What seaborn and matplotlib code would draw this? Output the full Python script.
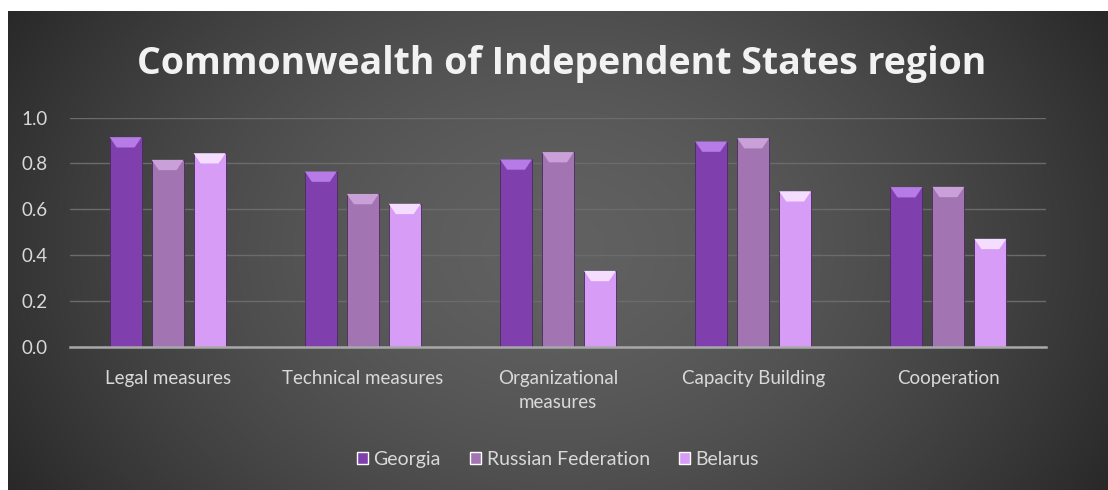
import numpy as np
import pandas as pd
import seaborn as sns
import matplotlib.pyplot as plt
from matplotlib.patches import Polygon

# data
categories = ["Legal measures", "Technical measures", "Organizational\nmeasures",
              "Capacity Building", "Cooperation"]
georgia = [0.915, 0.765, 0.818, 0.896, 0.697]
russia = [0.816, 0.667, 0.850, 0.911, 0.698]
belarus = [0.845, 0.624, 0.331, 0.679, 0.471]
countries = ["Georgia", "Russian Federation", "Belarus"]
colors = ["#7f40ae", "#a374b2", "#d69cf6"]
tops = ["#b77be8", "#c9a0d8", "#f5ddff"]

df = pd.DataFrame({
    "cat": categories * 3,
    "country": [c for c in countries for _ in categories],
    "val": georgia + russia + belarus,
})

sns.set_theme(style="dark")
plt.rcParams['font.family'] = ['Lato', 'DejaVu Sans']

fig = plt.figure(figsize=(11.08, 4.90), dpi=100)
fig.patch.set_facecolor("white")

# gradient background of the chart area
bg = fig.add_axes([8 / 1108, 0, 1100 / 1108, 479 / 490])
yy, xx = np.mgrid[-1:1:200j, -1:1:400j]
r = np.sqrt((xx * 0.95) ** 2 + (yy * 0.55) ** 2)
shade = 0.38 - 0.19 * np.clip(r, 0, 1.3) ** 1.6
bg.imshow(np.dstack([shade] * 3), aspect="auto", extent=[0, 1, 0, 1])
bg.axis("off")

ax = fig.add_axes([70 / 1108, (490 - 346.7) / 490, 976 / 1108, 229 / 490])
ax.set_facecolor("none")
sns.barplot(data=df, x="cat", y="val", hue="country", palette=colors,
            width=0.645, gap=0.24, ax=ax, legend=True, saturation=1)

# bevel look on each bar
for i, cont in enumerate(ax.containers):
    for p in cont:
        x, w, h = p.get_x(), p.get_width(), p.get_height()
        p.set_edgecolor("#4a2a5e")
        p.set_linewidth(0.6)
        d = 0.045
        ax.add_patch(Polygon([(x, h), (x + w, h), (x + w * 0.78, h - d), (x + w * 0.22, h - d)],
                             closed=True, facecolor=tops[i], edgecolor="none", zorder=3))

ax.set_ylim(0, 1.0)
ax.set_xlim(-0.5, 4.5)
ax.set_yticks(np.arange(0, 1.01, 0.2))
ax.set_yticklabels([f"{v:.1f}" for v in np.arange(0, 1.01, 0.2)])
ax.grid(axis="y", color="#6b6b6b", linewidth=1)
ax.set_axisbelow(True)
for s in ["top", "right", "left"]:
    ax.spines[s].set_visible(False)
ax.spines["bottom"].set_color("#a8a8a8")
ax.spines["bottom"].set_linewidth(1.8)
ax.tick_params(axis="both", colors="#d9d9d9", labelsize=13.5, length=0)
ax.tick_params(axis="x", pad=17)
ax.tick_params(axis="y", pad=16)
for t in ax.get_xticklabels():
    t.set_linespacing(1.45)
ax.set_xlabel("")
ax.set_ylabel("")

ax.legend(loc="upper center", bbox_to_anchor=(0.5, -0.38), ncol=3, frameon=False,
          fontsize=14, labelcolor="#d9d9d9", handlelength=0.55, handleheight=0.55,
          handletextpad=0.3, columnspacing=1.5)

fig.text(0.507, 0.87, "Commonwealth of Independent States region", ha="center",
         va="center", fontsize=27, fontweight="bold", color="#f2f2f2",
         family=["Open Sans", "DejaVu Sans"])

fig.savefig("out.png", dpi=100)
